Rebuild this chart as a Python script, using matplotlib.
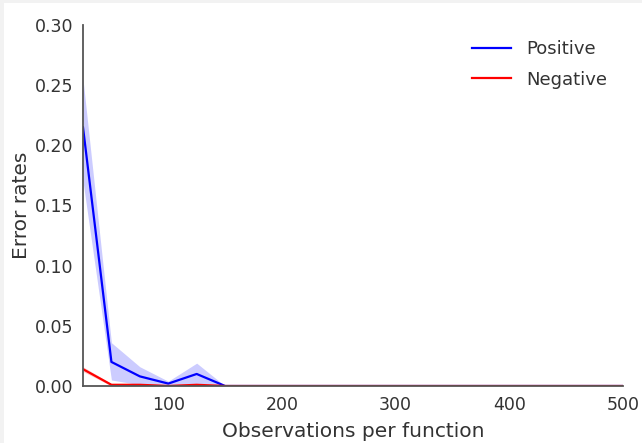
import matplotlib
matplotlib.use('Agg')
import matplotlib.pyplot as plt
from matplotlib.patches import Rectangle
import numpy as np

# observations per function
obs = [25, 50, 75, 100, 125, 150, 175, 200, 225, 250, 275, 300,
       325, 350, 375, 400, 425, 450, 475, 500]

pos_mean = [0.215, 0.020, 0.008, 0.002, 0.010, 0.0] + [0.0] * 14
pos_low = [0.170, 0.005, 0.001, 0.0, 0.002, 0.0] + [0.0] * 14
pos_high = [0.255, 0.036, 0.016, 0.004, 0.019, 0.0] + [0.0] * 14

neg_mean = [0.014, 0.001, 0.001, 0.0, 0.001, 0.0] + [0.0] * 14
neg_low = [0.012, 0.0, 0.0, 0.0, 0.0, 0.0] + [0.0] * 14
neg_high = [0.016, 0.002, 0.002, 0.001, 0.002, 0.0] + [0.0] * 14

plt.rcParams['font.family'] = ['DejaVu Sans']

fig = plt.figure(figsize=(6.42, 4.43), dpi=100)
fig.patch.set_facecolor('#f2f2f2')
fig.patches.append(Rectangle((4 / 642, 0), 1, 1 - 3 / 443, transform=fig.transFigure,
                             facecolor='white', edgecolor='none', zorder=-10))
ax = fig.add_axes([83 / 642, 1 - 386 / 443, 540 / 642, 361 / 443])
ax.set_facecolor('white')

ax.fill_between(obs, pos_low, pos_high, color='blue', alpha=0.2, linewidth=0)
ax.plot(obs, pos_mean, color='blue', lw=1.6, label='Positive')
ax.fill_between(obs, neg_low, neg_high, color='red', alpha=0.2, linewidth=0)
ax.plot(obs, neg_mean, color='red', lw=1.6, label='Negative')

ax.set_xlim(25, 500)
ax.set_ylim(0, 0.30)
ax.set_xticks([100, 200, 300, 400, 500])
ax.set_yticks(np.arange(0, 0.31, 0.05))
ax.yaxis.set_major_formatter(matplotlib.ticker.FormatStrFormatter('%.2f'))
ax.tick_params(length=0, labelsize=12.5, labelcolor='#333333', pad=7)

for s in ['top', 'right']:
    ax.spines[s].set_visible(False)
for s in ['left', 'bottom']:
    ax.spines[s].set_color('#555555')
    ax.spines[s].set_linewidth(1.3)

ax.set_xlabel('Observations per function', fontsize=14.5, color='#333333', labelpad=6)
ax.set_ylabel('Error rates', fontsize=14.5, color='#333333', labelpad=3)

leg = ax.legend(frameon=False, fontsize=13, loc='upper right', handlelength=2.2,
                labelspacing=0.7, bbox_to_anchor=(1.0, 1.003))
for t in leg.get_texts():
    t.set_color('#333333')

fig.savefig('out.png', dpi=100, facecolor=fig.get_facecolor())
